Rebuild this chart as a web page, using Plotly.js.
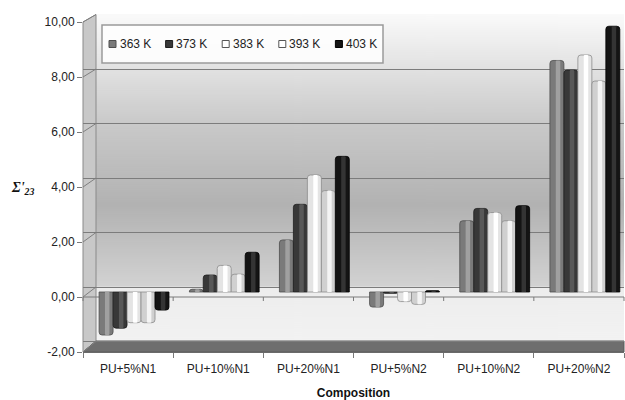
<!DOCTYPE html>
<html>
<head>
<meta charset="utf-8">
<script src="https://cdn.plot.ly/plotly-3.0.1.min.js"></script>
<style>
  html, body { margin: 0; padding: 0; background: #ffffff; }
  #chart { width: 625px; height: 400px; }
</style>
</head>
<body>
<div id="chart"></div>
<script>
// ---- data ----
const categories = ['PU+5%N1', 'PU+10%N1', 'PU+20%N1', 'PU+5%N2', 'PU+10%N2', 'PU+20%N2'];
const seriesNames = ['363 K', '373 K', '383 K', '393 K', '403 K'];
const t363 = [-1.57, 0.10, 1.90, -0.55, 2.60, 8.45];
const t373 = [-1.32, 0.62, 3.20, -0.05, 3.05, 8.10];
const t383 = [-1.12, 0.97, 4.27, -0.35, 2.90, 8.65];
const t393 = [-1.12, 0.65, 3.70, -0.45, 2.60, 7.70];
const t403 = [-0.66, 1.45, 4.95, 0.05, 3.15, 9.70];
const yTicks = [-2, 0, 2, 4, 6, 8, 10];
const yTickText = yTicks.map(v => v.toFixed(2).replace('.', ','));
const seriesValues = [t363, t373, t383, t393, t403];

// ---- styles ----
const fills  = ['#7a7a7a', '#383838', '#e4e4e4', '#d0d0d0', '#141414'];
const edges  = ['#4e4e4e', '#1e1e1e', '#8c8c8c', '#8c8c8c', '#000000'];
const shines = ['#a0a0a0', '#585858', '#ffffff', '#f4f4f4', '#343434'];
const swatchFill = ['#7a7a7a', '#383838', '#ffffff', '#ffffff', '#141414'];
const swatchEdge = ['#4e4e4e', '#1e1e1e', '#555555', '#555555', '#000000'];

// ---- pseudo-3D frame geometry (pixels) ----
const L = 83, R = 624, T = 14, B = 352;          // plot area
const frontZero = 297, frontUnit = 27.5;         // front (labelled) value plane
const backZero = 287, backUnit = 27.25;          // back wall
const backLeft = 96, backBottom = 341;
const barZero = 292, barUnit = 27.4;             // plane the bars stand in

const rangeFor = (zero, unit) => [-(B - zero) / unit, (zero - T) / unit];
const px2x = p => (p - L) / (R - L);
const px2y = p => (B - p) / (B - T);
const frontY = v => frontZero - frontUnit * v;
const backY = v => backZero - backUnit * v;

// ---- bars: one body + one highlight stripe per series (cylinder look) ----
const nS = seriesValues.length;
const bw = 0.155, shift = 0.066;
const traces = [];
// invisible anchors so the front and back axes own subplots
traces.push({ type: 'scatter', x: [categories[0]], y: [null], xaxis: 'x', yaxis: 'y',
  mode: 'markers', marker: { opacity: 0 }, showlegend: false, hoverinfo: 'skip' });
traces.push({ type: 'scatter', x: [categories[0]], y: [null], xaxis: 'x', yaxis: 'y2',
  mode: 'markers', marker: { opacity: 0 }, showlegend: false, hoverinfo: 'skip' });
seriesValues.forEach((vals, i) => {
  const off = -nS * bw / 2 + i * bw + shift;
  traces.push({
    type: 'bar', x: categories, y: vals, xaxis: 'x', yaxis: 'y3',
    width: bw, offset: off, name: seriesNames[i],
    marker: { color: fills[i], line: { color: edges[i], width: 0.8 }, cornerradius: 3 },
    showlegend: false, hoverinfo: 'skip'
  });
  traces.push({
    type: 'bar', x: categories, y: vals, xaxis: 'x', yaxis: 'y3',
    width: bw * 0.32, offset: off + bw * 0.42,
    marker: { color: shines[i], line: { width: 0 }, cornerradius: 1.5 },
    showlegend: false, hoverinfo: 'skip'
  });
});

// ---- back wall gradient ----
function wallImage() {
  const h = backBottom - T;
  const cv = document.createElement('canvas');
  cv.width = 4; cv.height = h;
  const ctx = cv.getContext('2d');
  const g = ctx.createLinearGradient(0, 0, 0, h);
  const at = p => Math.min(1, Math.max(0, (p - T) / h));
  g.addColorStop(0, '#fafafa');
  g.addColorStop(at(124), '#c9c9c9');
  g.addColorStop(at(205), '#b2b2b2');
  g.addColorStop(at(286), '#d2d2d2');
  g.addColorStop(at(287.5), '#ededed');
  g.addColorStop(1, '#f2f2f2');
  ctx.fillStyle = g;
  ctx.fillRect(0, 0, 4, h);
  return cv.toDataURL('image/png');
}

// ---- frame shapes ----
const poly = pts => 'M' + pts.map(p => px2x(p[0]) + ',' + px2y(p[1])).join('L') + 'Z';
const shapes = [];
// left side wall
shapes.push({ type: 'path', xref: 'paper', yref: 'paper', layer: 'between',
  path: poly([[L, frontY(10)], [backLeft, backY(10)], [backLeft, backBottom], [L, B]]),
  fillcolor: '#c8c8c8', line: { color: '#8a8a8a', width: 1 } });
// white cover above the side wall
shapes.push({ type: 'path', xref: 'paper', yref: 'paper', layer: 'between',
  path: poly([[L - 1, T - 4], [backLeft - 0.5, T - 4], [backLeft - 0.5, backY(10) - 0.5], [L - 1, frontY(10) - 0.5]]),
  fillcolor: '#ffffff', line: { width: 0 } });
// floor edge
shapes.push({ type: 'path', xref: 'paper', yref: 'paper', layer: 'between',
  path: poly([[L, B], [backLeft, backBottom], [R, backBottom], [R, B]]),
  fillcolor: '#6e6e6e', line: { color: '#5a5a5a', width: 1 } });
// depth connectors from front ticks to back gridlines
yTicks.forEach(v => {
  shapes.push({ type: 'line', xref: 'paper', yref: 'paper', layer: 'between',
    x0: px2x(L), y0: px2y(frontY(v)), x1: px2x(backLeft), y1: px2y(backY(v)),
    line: { color: '#808080', width: 1 } });
});
// front zero line of the category axis with its ticks
shapes.push({ type: 'line', xref: 'paper', yref: 'paper', layer: 'between',
  x0: 0, y0: px2y(frontY(0)), x1: 1, y1: px2y(frontY(0)),
  line: { color: '#7a7a7a', width: 1 } });
for (let k = 0; k <= categories.length; k++) {
  shapes.push({ type: 'line', xref: 'paper', yref: 'paper', layer: 'between',
    x0: k / categories.length, x1: k / categories.length,
    y0: px2y(frontY(0)), y1: px2y(frontY(0) + 4),
    line: { color: '#7a7a7a', width: 1 } });
}

// ---- custom legend ----
const legLeft = 102, legRight = 383, legTop = 25, legBottom = 63;
shapes.push({ type: 'rect', xref: 'paper', yref: 'paper', layer: 'above',
  x0: px2x(legLeft), x1: px2x(legRight), y0: px2y(legBottom), y1: px2y(legTop),
  fillcolor: 'rgba(255,255,255,0.85)', line: { color: '#9a9a9a', width: 1.5 } });
const annotations = [];
const legMid = (legTop + legBottom) / 2, itemStart = 109, itemStep = 56.6, sw = 7;
seriesNames.forEach((name, i) => {
  const x0 = itemStart + i * itemStep;
  shapes.push({ type: 'rect', xref: 'paper', yref: 'paper', layer: 'above',
    x0: px2x(x0), x1: px2x(x0 + sw), y0: px2y(legMid + sw / 2), y1: px2y(legMid - sw / 2),
    fillcolor: swatchFill[i], line: { color: swatchEdge[i], width: 1 } });
  annotations.push({ xref: 'paper', yref: 'paper', x: px2x(x0 + sw + 1.5), y: px2y(legMid),
    xanchor: 'left', yanchor: 'middle', showarrow: false, text: name,
    font: { family: 'Liberation Sans, Arial, sans-serif', size: 12, color: '#222222' } });
});

// vertical axis title
annotations.push({ xref: 'paper', yref: 'paper', x: px2x(22), y: px2y(188),
  xanchor: 'center', yanchor: 'middle', showarrow: false,
  text: "Σ'<sub>23</sub>",
  font: { family: 'Liberation Serif, DejaVu Serif, serif', size: 14, color: '#111111', weight: 'bold', style: 'italic' } });

const layout = {
  width: 625, height: 400,
  margin: { l: L, r: 625 - R, t: T, b: 400 - B, pad: 0 },
  paper_bgcolor: '#ffffff', plot_bgcolor: 'rgba(0,0,0,0)',
  separators: ', ',
  barmode: 'overlay',
  font: { family: 'Liberation Sans, Arial, sans-serif', size: 12, color: '#222222' },
  showlegend: false,
  xaxis: {
    type: 'category', categoryorder: 'array', categoryarray: categories,
    range: [-0.5, categories.length - 0.5], tickson: 'boundaries',
    ticks: 'outside', ticklen: 5, tickcolor: '#7a7a7a',
    showline: true, linecolor: '#6a6a6a', showgrid: false, zeroline: false,
    tickfont: { size: 12, color: '#222222' }, ticklabelstandoff: 6,
    title: { text: 'Composition', font: { size: 12, weight: 'bold', color: '#111111' }, standoff: 17 },
    automargin: false
  },
  yaxis: {
    range: rangeFor(frontZero, frontUnit), tickmode: 'array', tickvals: yTicks, ticktext: yTickText,
    ticks: 'outside', ticklen: 5, tickcolor: '#7a7a7a',
    showgrid: false, zeroline: false, showline: false, showticklabels: true,
    tickfont: { size: 12, color: '#222222' }, automargin: false
  },
  yaxis2: {
    overlaying: 'y', range: rangeFor(backZero, backUnit), tickvals: yTicks,
    showticklabels: false, ticks: '', showgrid: true, gridcolor: '#7c7c7c', gridwidth: 1,
    zeroline: false, showline: false
  },
  yaxis3: {
    overlaying: 'y', range: rangeFor(barZero, barUnit), visible: false
  },
  images: [{
    source: wallImage(), xref: 'paper', yref: 'paper',
    x: px2x(backLeft), y: 1, sizex: 1 - px2x(backLeft), sizey: (backBottom - T) / (B - T),
    xanchor: 'left', yanchor: 'top', sizing: 'stretch', layer: 'below'
  }],
  shapes: shapes,
  annotations: annotations
};

Plotly.newPlot('chart', traces, layout, { staticPlot: true, displayModeBar: false });
</script>
</body>
</html>
